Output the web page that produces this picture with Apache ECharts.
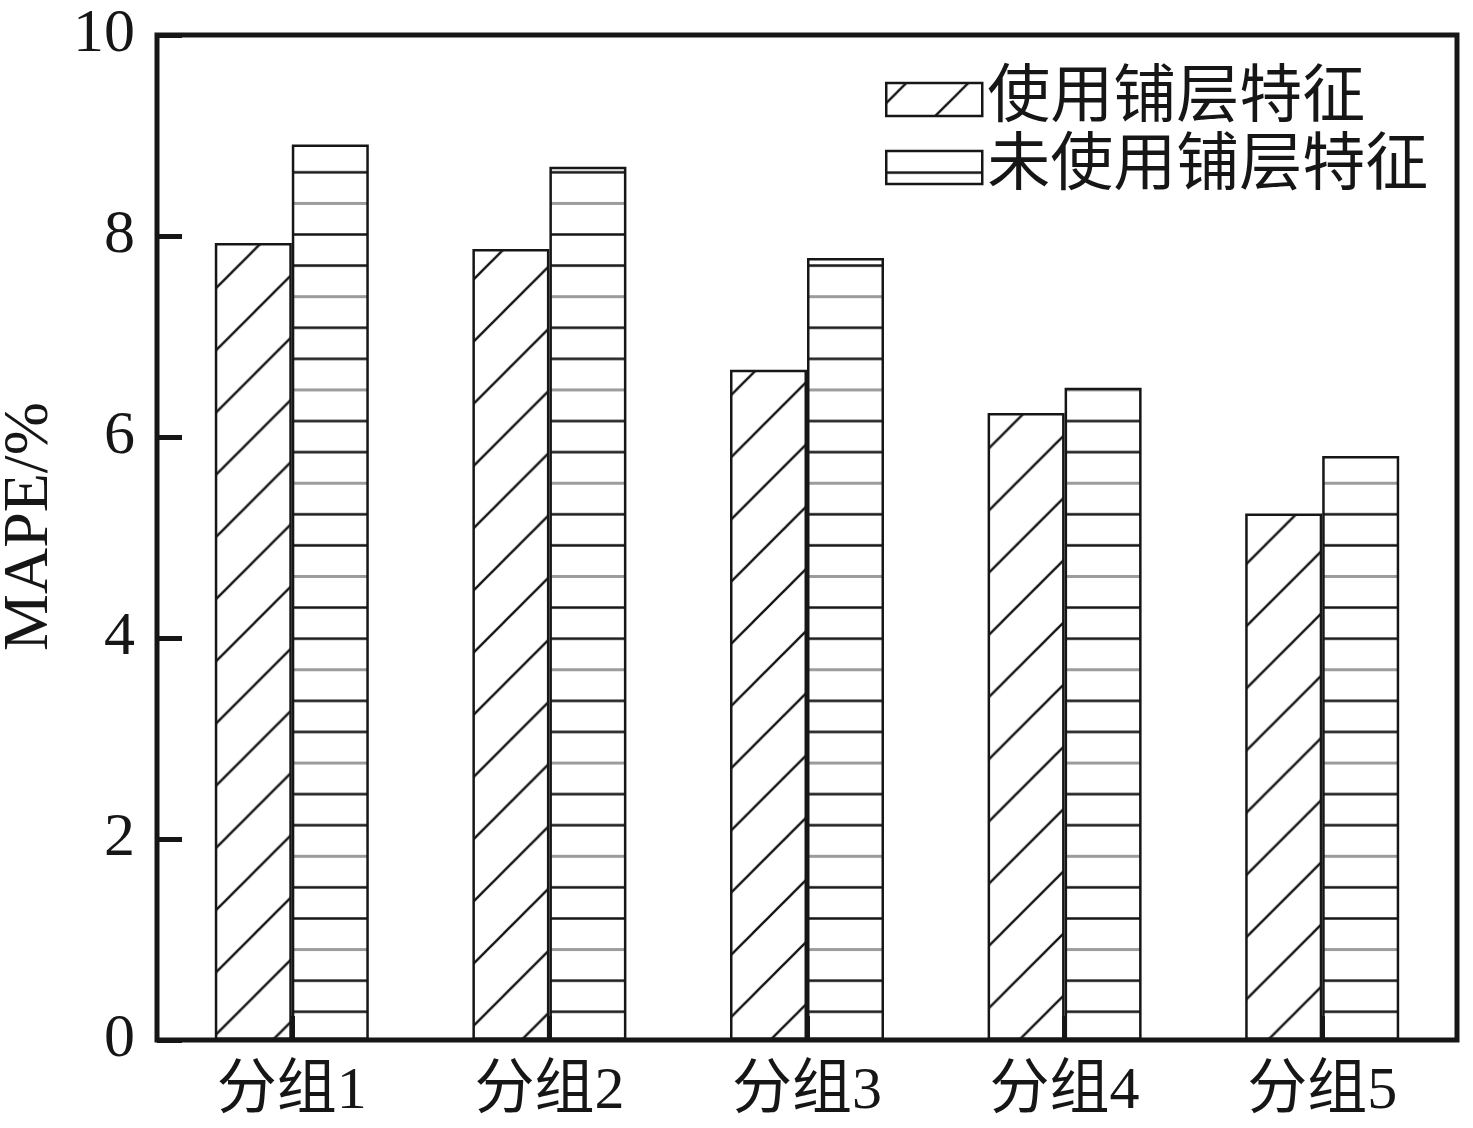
<!DOCTYPE html>
<html>
<head>
<meta charset="utf-8">
<title>MAPE</title>
<script src="https://cdn.jsdelivr.net/npm/echarts@6/dist/echarts.min.js"></script>
<style>
  html, body { margin: 0; padding: 0; background: #fff; }
  #chart { width: 1473px; height: 1128px; }
</style>
</head>
<body>
<div id="chart"></div>
<script>
const categories = ['分组1', '分组2', '分组3', '分组4', '分组5'];
const seriesNames = ['使用铺层特征', '未使用铺层特征'];
const withPly = [7.93, 7.87, 6.67, 6.24, 5.24];
const withoutPly = [8.91, 8.69, 7.78, 6.49, 5.81];
const yTicks = [0, 2, 4, 6, 8, 10];

const INK = '#161616';
const SERIF = '"Liberation Serif", "Times New Roman", serif';
const CJK = '"Liberation Serif", "Noto Sans CJK SC", serif';

// "/" hatch tile
function diagTile() {
  const s = 62;
  const c = document.createElement('canvas');
  c.width = s;
  c.height = s;
  const g = c.getContext('2d');
  g.strokeStyle = INK;
  g.lineWidth = 2.4;
  g.beginPath();
  [-s, 0, s].forEach(dx => {
    g.moveTo(-4 + dx, s + 4);
    g.lineTo(s + 4 + dx, -4);
  });
  g.stroke();
  return c;
}

// horizontal stripes, every third one grey
function stripeTile() {
  const c = document.createElement('canvas');
  c.width = 8;
  c.height = 93;
  const g = c.getContext('2d');
  g.fillStyle = '#9c9c9c';
  g.fillRect(0, 14, 8, 3);
  g.fillStyle = INK;
  g.fillRect(0, 45.25, 8, 2.5);
  g.fillRect(0, 76.25, 8, 2.5);
  return c;
}

const diagImg = diagTile();
const stripeImg = stripeTile();

const diagPattern = {
  image: diagImg, repeat: 'repeat',
  x: 6.5, y: 0, scaleX: 62.2 / 62, scaleY: 62.2 / 62
};
const stripePattern = {
  image: stripeImg, repeat: 'repeat',
  x: 0, y: 1.3, scaleX: 1, scaleY: 93.27 / 93
};
// legend icons are anchored at their own corner
const diagLegend = { image: diagImg, repeat: 'repeat', x: 20, y: 0 };
const stripeLegend = { image: stripeImg, repeat: 'repeat', x: 0, y: -24.9 };

const chart = echarts.init(document.getElementById('chart'));

chart.setOption({
  animation: false,
  backgroundColor: '#fff',
  legend: {
    data: [
      { name: seriesNames[0], itemStyle: { color: diagLegend } },
      { name: seriesNames[1], itemStyle: { color: stripeLegend } }
    ],
    orient: 'vertical',
    left: 885,
    top: 68,
    padding: 0,
    itemWidth: 96,
    itemHeight: 33,
    itemGap: 5,
    icon: 'rect',
    itemStyle: { borderColor: INK, borderWidth: 2.5 },
    textStyle: { fontSize: 63, fontFamily: CJK, color: INK }
  },
  grid: [
    { left: 163, top: 35, width: 1288, height: 1005, outerBoundsMode: 'none', containLabel: false },
    {
      left: 157, top: 35, width: 1300, height: 1005, show: true,
      outerBoundsMode: 'none', containLabel: false,
      borderColor: INK, borderWidth: 5, backgroundColor: 'transparent', z: 5
    }
  ],
  xAxis: [
    {
      type: 'category',
      gridIndex: 0,
      data: categories,
      z: 10,
      axisLine: { show: false },
      axisTick: {
        show: true, alignWithLabel: true, inside: true, length: 24,
        lineStyle: { color: INK, width: 5 }
      },
      axisLabel: { fontSize: 60, fontFamily: CJK, color: INK, margin: 22 }
    },
    { type: 'value', gridIndex: 1, show: false }
  ],
  yAxis: [
    {
      type: 'value',
      gridIndex: 0,
      min: yTicks[0],
      max: yTicks[yTicks.length - 1],
      interval: yTicks[1] - yTicks[0],
      offset: 6,
      z: 10,
      axisLine: { show: false },
      axisTick: {
        show: true, inside: true, length: 25,
        lineStyle: { color: INK, width: 5 }
      },
      splitLine: { show: false },
      axisLabel: { fontSize: 62, fontFamily: SERIF, color: INK, margin: 22 },
      name: 'MAPE/%',
      nameLocation: 'middle',
      nameGap: 91,
      nameTextStyle: { fontSize: 64, fontFamily: SERIF, color: INK, padding: [0, 0, 0, 22] }
    },
    { type: 'value', gridIndex: 1, show: false }
  ],
  series: [
    {
      name: seriesNames[0],
      type: 'bar',
      data: withPly,
      barWidth: 77,
      barGap: '0%',
      itemStyle: { color: diagPattern, borderColor: INK, borderWidth: 2.5 }
    },
    {
      name: seriesNames[1],
      type: 'bar',
      data: withoutPly,
      barWidth: 77,
      barGap: '0%',
      itemStyle: { color: stripePattern, borderColor: INK, borderWidth: 2.5 }
    }
  ]
});

window.addEventListener('resize', () => chart.resize());
</script>
</body>
</html>
